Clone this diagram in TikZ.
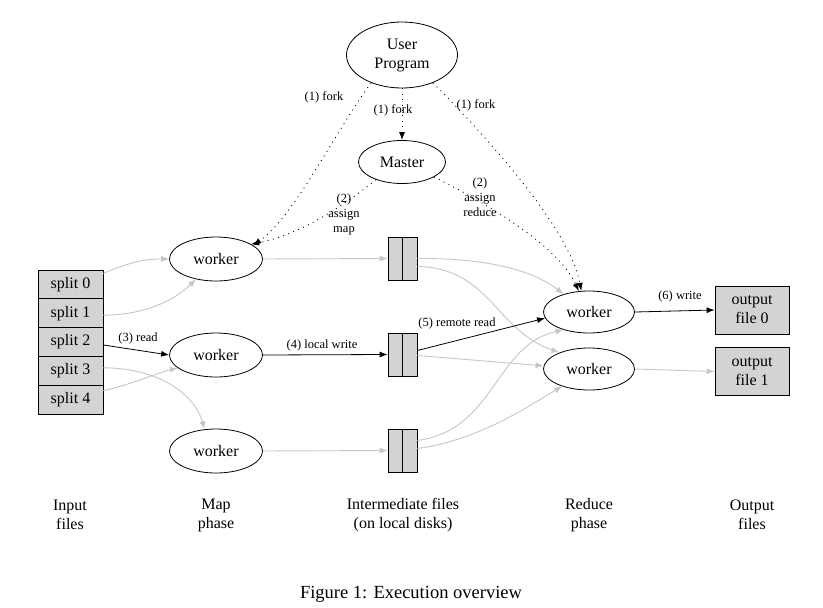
\documentclass[tikz,border=0pt]{standalone}
\usepackage{fontspec}
\setmainfont{Liberation Serif}
\usetikzlibrary{shapes.geometric,arrows.meta,calc}
\definecolor{edgegray}{RGB}{198,198,198}
\definecolor{boxgray}{RGB}{211,211,211}
\tikzset{
  nodefont/.style={font=\fontsize{16}{19}\selectfont},
  lblfont/.style={font=\fontsize{12.5}{15}\selectfont},
  ell/.style={ellipse,draw,line width=0.8pt,inner sep=0pt,nodefont,align=center},
  splitbox/.style={rectangle,draw,line width=0.8pt,fill=boxgray,minimum width=65pt,minimum height=28.8pt,inner sep=0pt,nodefont},
  ibox/.style={rectangle,draw,line width=0.8pt,fill=boxgray,minimum width=29pt,minimum height=43pt,inner sep=0pt},
  outbox/.style={rectangle,draw,line width=0.8pt,fill=boxgray,minimum width=74pt,minimum height=48pt,inner sep=0pt,nodefont,align=center},
  blk/.style={draw=black,line width=0.8pt,-{Latex[length=8pt,width=6pt]}},
  gry/.style={draw=edgegray,line width=0.9pt,-{Latex[length=8pt,width=6pt]}},
  dot/.style={draw=black,line width=0.9pt,dash pattern=on 0.9pt off 4.5pt,-{Latex[length=8pt,width=6pt]}},
  lbl/.style={lblfont,inner sep=0pt,align=center},
  phase/.style={nodefont,align=center,inner sep=0pt},
}
\begin{document}
\begin{tikzpicture}[x=1pt,y=-1pt]
\useasboundingbox (0,0) rectangle (823,608);
% top
\node[ell,minimum width=111pt,minimum height=66pt] (up) at (402,55) {User\\Program};
\node[ell,minimum width=87pt,minimum height=43pt] (master) at (402,162) {Master};
% splits
\node[splitbox] (s0) at (70.5,284.4) {split 0};
\node[splitbox] (s1) at (70.5,313.2) {split 1};
\node[splitbox] (s2) at (70.5,342.0) {split 2};
\node[splitbox] (s3) at (70.5,370.8) {split 3};
\node[splitbox] (s4) at (70.5,399.6) {split 4};
% map workers
\node[ell,minimum width=93pt,minimum height=44pt] (m1) at (216,259) {worker};
\node[ell,minimum width=93pt,minimum height=44pt] (m2) at (216,355) {worker};
\node[ell,minimum width=93pt,minimum height=44pt] (m3) at (216,451) {worker};
% intermediate
\node[ibox] (i1) at (402.5,258.5) {};
\node[ibox] (i2) at (402.5,354.5) {};
\node[ibox] (i3) at (402.5,450.5) {};
\foreach \n in {i1,i2,i3}{\draw[line width=0.8pt] (\n.north) -- (\n.south);}
% reduce workers
\node[ell,minimum width=91pt,minimum height=42pt] (r1) at (589,312) {worker};
\node[ell,minimum width=91pt,minimum height=42pt] (r2) at (589,369) {worker};
% outputs
\node[outbox] (o0) at (752,310) {output\\file 0};
\node[outbox] (o1) at (752,371.5) {output\\file 1};
% fork / assign (dotted)
\draw[dot] (up.south) -- (master.north);
\node[lbl] (lf2) at (393,110) {(1) fork};
\draw[dot] (up.222) .. controls (330,140) and (295,215) .. (m1.20);
\node[lbl] (lf1) at (324,97) {(1) fork};
\draw[dot] (up.318) .. controls (490,140) and (570,230) .. (r1.110);
\node[lbl] (lf3) at (476,105) {(1) fork};
\draw[dot] (master.214) .. controls (345,205) and (300,235) .. (m1.23);
\node[lbl] (la1) at (344,214) {(2)\\assign\\map};
\draw[dot] (master.335) .. controls (500,210) and (560,250) .. (r1.116);
\node[lbl] (la2) at (480,197) {(2)\\assign\\reduce};
% input -> map
\draw[gry] ([yshift=11pt]s0.east) .. controls (130,262) and (145,259) .. (m1.west);
\draw[gry] ([yshift=-2pt]s1.east) .. controls (145,315) and (175,300) .. (m1.225);
\draw[blk] ([yshift=-3pt]s2.east) -- (m2.west);
\node[lbl] (l3) at (138,338) {(3) read};
\draw[gry] ([yshift=3pt]s3.east) .. controls (160,368) and (195,395) .. (m3.118);
\draw[gry] ([yshift=9pt]s4.east) .. controls (130,385) and (160,372) .. (m2.199);
% map -> intermediate
\draw[gry] (m1.east) -- (i1.west);
\draw[blk] (m2.east) -- (i2.west);
\node[lbl] (l4) at (322,345) {(4) local write};
\draw[gry] (m3.east) -- (i3.west);
% intermediate -> reduce
\draw[gry] (i1.east) .. controls (480,258) and (530,268) .. (r1.145);
\draw[gry] ([yshift=-8pt]i1.east) .. controls (490,268) and (495,330) .. (r2.151);
\draw[blk] ([yshift=4pt]i2.east) -- (r1.188);
\node[lbl] (l5) at (457,323) {(5) remote read};
\draw[gry] ([yshift=-1pt]i2.east) -- (r2.176);
\draw[gry] ([yshift=10pt]i3.east) .. controls (495,430) and (495,345) .. (r1.215);
\draw[gry] ([yshift=2pt]i3.east) .. controls (480,440) and (530,405) .. (r2.213);
% reduce -> output
\draw[blk] (r1.east) -- (o0.west);
\node[lbl] (l6) at (680,296) {(6) write};
\draw[gry] (r2.east) -- (o1.west);
% phase labels
\node[phase] (p1) at (70,515) {Input\\files};
\node[phase] (p2) at (216,515) {Map\\phase};
\node[phase] (p3) at (403,515) {Intermediate files\\(on local disks)};
\node[phase] (p4) at (589,515) {Reduce\\phase};
\node[phase] (p5) at (752,515) {Output\\files};
\node[font=\fontsize{18.5}{21}\selectfont,inner sep=0pt] (cap) at (411,594) {Figure 1: Execution overview};
\end{tikzpicture}
\end{document}
